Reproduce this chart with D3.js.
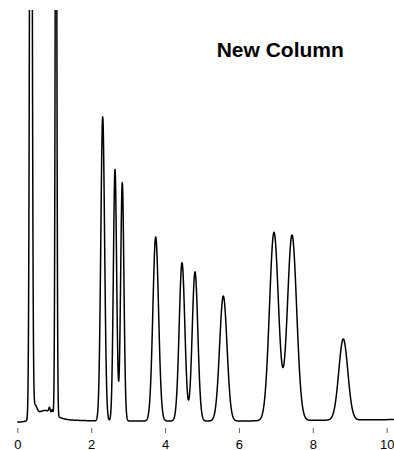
<!DOCTYPE html>
<html>
<head>
<meta charset="utf-8">
<script src="https://cdn.jsdelivr.net/npm/d3@7"></script>
<style>
  html, body { margin: 0; padding: 0; background: #fff; }
  svg { display: block; }
</style>
</head>
<body>
<div id="chart"></div>
<script>
// ---- Data ----
// Main peaks: retention time (min), height (detector units), width sigma (min)
const peakTimes   = [0.368, 1.048, 2.312, 2.645, 2.842, 3.747, 4.459, 4.811, 5.577, 6.949, 7.437, 8.825];
const peakHeights = [243,   170,   74.0,  61.2,  58.0,  44.8,  38.5,  36.3,  30.4,  45.8,  45.1,  19.7];
const peakWidths  = [0.030, 0.022, 0.051, 0.044, 0.044, 0.077, 0.076, 0.076, 0.100, 0.122, 0.125, 0.122];

// Minor features near the solvent front (tail and small bumps)
const minorTimes   = [0.48, 0.75, 0.87, 0.945];
const minorHeights = [2.4,  2.4,  1.0,  0.8];
const minorWidths  = [0.05, 0.25, 0.018, 0.015];

// Baseline drift anchors
const baselineTimes  = [0, 0.30, 0.33, 1.3, 2.2, 6.0, 10.2];
const baselineValues = [-0.3, -0.3, 0.1, 0.25, 0, 0, 0.35];

// Axis ticks
const xTicks = [0, 2, 4, 6, 8, 10];
const title = "New Column";
const runEnd = 10.2;

// ---- Drawing ----
const W = 394, H = 450;
const svg = d3.select("#chart").append("svg").attr("width", W).attr("height", H);

const x = d3.scaleLinear().domain([0, 10]).range([17.3, 386.7]);
const y = d3.scaleLinear().domain([0, 100]).range([421, 10]);
const drift = d3.scaleLinear().domain(baselineTimes).range(baselineValues).clamp(true);

function signal(t) {
  let v = drift(t);
  for (let i = 0; i < peakTimes.length; i++) {
    const d = (t - peakTimes[i]) / peakWidths[i];
    v += peakHeights[i] * Math.exp(-0.5 * d * d);
  }
  for (let i = 0; i < minorTimes.length; i++) {
    const d = (t - minorTimes[i]) / minorWidths[i];
    v += minorHeights[i] * Math.exp(-0.5 * d * d);
  }
  return v;
}

const times = d3.range(0, runEnd + 1e-9, 0.002);
const trace = times.map(t => [t, signal(t)]);

svg.append("clipPath").attr("id", "plotclip")
  .append("rect").attr("x", 0).attr("y", 10).attr("width", W).attr("height", H - 10);

svg.append("path")
  .datum(trace)
  .attr("clip-path", "url(#plotclip)")
  .attr("fill", "none")
  .attr("stroke", "#000")
  .attr("stroke-width", 1.5)
  .attr("stroke-linejoin", "round")
  .attr("d", d3.line().x(d => x(d[0])).y(d => y(d[1])));

const axis = svg.append("g")
  .attr("transform", "translate(0,428)")
  .call(d3.axisBottom(x).tickValues(xTicks).tickSize(5).tickFormat(d3.format("d")));
axis.select(".domain").remove();
axis.selectAll(".tick line").attr("stroke", "#666").attr("stroke-width", 1);
axis.selectAll(".tick text")
  .attr("y", 20.5).attr("dy", 0)
  .attr("fill", "#000")
  .style("font-family", "'Liberation Sans Narrow', 'Arial Narrow', 'Liberation Sans', Arial, sans-serif")
  .style("font-size", "13px");

svg.append("text")
  .attr("x", 216.7).attr("y", 56.7)
  .style("font-family", "'Liberation Sans', Arial, Helvetica, sans-serif")
  .style("font-weight", "bold")
  .style("font-size", "21px")
  .attr("fill", "#000")
  .text(title);
</script>
</body>
</html>
